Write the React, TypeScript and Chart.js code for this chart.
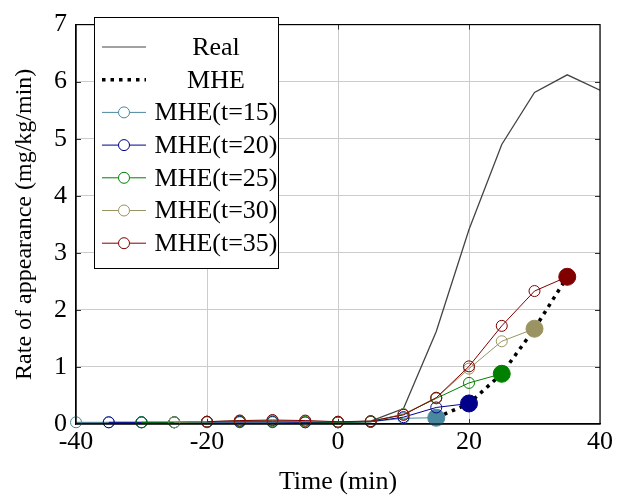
import React, { useEffect, useRef } from "react";
import { Chart, registerables } from "chart.js";

Chart.register(...registerables);

const realTimes = [-40, -35, -30, -25, -20, -15, -10, -5, 0, 5, 10, 15, 20, 25, 30, 35, 40];
const realValues = [0.02, 0.02, 0.02, 0.02, 0.02, 0.02, 0.02, 0.02, 0.03, 0.05, 0.27, 1.62, 3.41, 4.9, 5.81, 6.12, 5.85];

const t15Times = [-40, -35, -30, -25, -20, -15, -10, -5, 0, 5, 10, 15];
const t15Values = [0.03, 0.03, 0.03, 0.03, 0.03, 0.03, 0.03, 0.03, 0.03, 0.04, 0.1, 0.11];
const t20Times = [-35, -30, -25, -20, -15, -10, -5, 0, 5, 10, 15, 20];
const t20Values = [0.03, 0.03, 0.03, 0.04, 0.04, 0.04, 0.03, 0.03, 0.04, 0.12, 0.29, 0.36];
const t25Times = [-30, -25, -20, -15, -10, -5, 0, 5, 10, 15, 20, 25];
const t25Values = [0.03, 0.03, 0.04, 0.05, 0.05, 0.04, 0.03, 0.04, 0.17, 0.45, 0.72, 0.88];
const t30Times = [-25, -20, -15, -10, -5, 0, 5, 10, 15, 20, 25, 30];
const t30Values = [0.03, 0.04, 0.06, 0.06, 0.05, 0.04, 0.05, 0.17, 0.46, 0.97, 1.45, 1.67];
const t35Times = [-20, -15, -10, -5, 0, 5, 10, 15, 20, 25, 30, 35];
const t35Values = [0.04, 0.06, 0.07, 0.06, 0.04, 0.05, 0.16, 0.46, 1.01, 1.72, 2.33, 2.58];

const mheTimes = [15, 20, 25, 30, 35];
const mheValues = [0.11, 0.36, 0.88, 1.67, 2.58];

const legendLabels = ["Real", "MHE", "MHE(t=15)", "MHE(t=20)", "MHE(t=25)", "MHE(t=30)", "MHE(t=35)"];

const FONT = "'Liberation Serif', 'DejaVu Serif', serif";
const FS = 26;

const colors = {
  real: "#444444",
  mhe: "#000000",
  t15: "#4a889f",
  t20: "#00008b",
  t25: "#008000",
  t30: "#9b9361",
  t35: "#800000",
};

function pts(xs: number[], ys: number[]) {
  return xs.map((x, i) => ({ x, y: ys[i] }));
}

function seriesDs(label: string, xs: number[], ys: number[], color: string, order: number) {
  const n = xs.length;
  return {
    label,
    data: pts(xs, ys),
    borderColor: color,
    borderWidth: 1,
    pointRadius: xs.map((_, i) => (i === n - 1 ? 8.5 : 5.5)),
    pointBorderWidth: 1,
    pointBorderColor: color,
    pointBackgroundColor: xs.map((_, i) => (i === n - 1 ? color : "rgba(0,0,0,0)")),
    pointStyle: "circle",
    order,
    clip: false as any,
  };
}

const frame = {
  id: "frame",
  beforeDatasetsDraw(chart: any) {
    const { ctx, chartArea: a, scales } = chart;
    ctx.save();
    ctx.strokeStyle = "#333";
    ctx.lineWidth = 1;
    const tl = 5;
    for (const v of [-20, 0, 20]) {
      const x = Math.round(scales.x.getPixelForValue(v)) + 0.5;
      ctx.beginPath();
      ctx.moveTo(x, a.bottom);
      ctx.lineTo(x, a.bottom - tl);
      ctx.moveTo(x, a.top);
      ctx.lineTo(x, a.top + tl);
      ctx.stroke();
    }
    for (let v = 1; v <= 6; v++) {
      const y = Math.round(scales.y.getPixelForValue(v)) + 0.5;
      ctx.beginPath();
      ctx.moveTo(a.left, y);
      ctx.lineTo(a.left + tl, y);
      ctx.moveTo(a.right, y);
      ctx.lineTo(a.right - tl, y);
      ctx.stroke();
    }
    ctx.restore();
  },
  afterDraw(chart: any) {
    const { ctx, chartArea: a } = chart;
    ctx.save();
    ctx.strokeStyle = "#000";
    ctx.lineWidth = 1.2;
    ctx.strokeRect(a.left, a.top, a.right - a.left, a.bottom - a.top);

    // legend
    const lx = 94, ly = 17, lw = 184, lh = 251;
    ctx.fillStyle = "#fff";
    ctx.fillRect(lx, ly, lw, lh);
    ctx.strokeStyle = "#000";
    ctx.lineWidth = 1;
    ctx.strokeRect(lx + 0.5, ly + 0.5, lw, lh);
    const rowColors = [colors.real, colors.mhe, colors.t15, colors.t20, colors.t25, colors.t30, colors.t35];
    ctx.font = `${FS}px ${FONT}`;
    ctx.textBaseline = "middle";
    ctx.textAlign = "center";
    legendLabels.forEach((lab, i) => {
      const cy = 47 + i * 32.7;
      const x0 = 102, x1 = 146;
      ctx.save();
      ctx.strokeStyle = rowColors[i];
      if (i === 1) {
        ctx.lineWidth = 3.5;
        ctx.setLineDash([3.5, 5]);
      } else {
        ctx.lineWidth = 1;
      }
      ctx.beginPath();
      ctx.moveTo(x0, cy);
      ctx.lineTo(x1, cy);
      ctx.stroke();
      ctx.setLineDash([]);
      if (i >= 2) {
        ctx.fillStyle = "#fff";
        ctx.beginPath();
        ctx.arc(124, cy, 5.5, 0, Math.PI * 2);
        ctx.fill();
        ctx.stroke();
      }
      ctx.restore();
      ctx.fillStyle = "#000";
      ctx.fillText(lab, 216, cy + 1);
    });
    ctx.restore();
  },
};

export default function App() {
  const ref = useRef<HTMLCanvasElement | null>(null);
  useEffect(() => {
    document.body.style.margin = "0";
    const canvas = ref.current!;
    const chart = new Chart(canvas, {
      type: "line",
      data: {
        datasets: [
          {
            label: "Real",
            data: pts(realTimes, realValues),
            borderColor: colors.real,
            borderWidth: 1.3,
            pointRadius: 0,
            order: 20,
          } as any,
          {
            label: "MHE",
            data: pts(mheTimes, mheValues),
            borderColor: colors.mhe,
            borderWidth: 3.5,
            borderDash: [3.5, 5],
            pointRadius: 0,
            order: 10,
          } as any,
          seriesDs("MHE(t=15)", t15Times, t15Values, colors.t15, 5),
          seriesDs("MHE(t=20)", t20Times, t20Values, colors.t20, 4),
          seriesDs("MHE(t=25)", t25Times, t25Values, colors.t25, 3),
          seriesDs("MHE(t=30)", t30Times, t30Values, colors.t30, 2),
          seriesDs("MHE(t=35)", t35Times, t35Values, colors.t35, 1),
        ],
      },
      options: {
        animation: false,
        responsive: false,
        maintainAspectRatio: false,
        layout: { padding: { left: 0, right: 29, top: 16, bottom: 0 } },
        plugins: { legend: { display: false }, tooltip: { enabled: false } },
        scales: {
          x: {
            type: "linear",
            min: -40,
            max: 40,
            ticks: {
              stepSize: 20,
              color: "#000",
              font: { family: FONT, size: FS },
              padding: 3,
              maxRotation: 0,
            },
            grid: { color: "#cccccc", lineWidth: 1, drawTicks: false },
            border: { color: "#000", width: 1.2 },
            title: {
              display: true,
              text: "Time (min)",
              color: "#000",
              font: { family: FONT, size: FS },
              padding: { top: 4, bottom: 0 },
            },
            afterFit(scale: any) {
              scale.height = 74;
            },
          },
          y: {
            type: "linear",
            min: 0,
            max: 7,
            ticks: {
              stepSize: 1,
              color: "#000",
              font: { family: FONT, size: FS },
              padding: 9,
            },
            grid: { color: "#cccccc", lineWidth: 1, drawTicks: false },
            border: { color: "#000", width: 1.2 },
            title: {
              display: true,
              text: "Rate of appearance (mg/kg/min)",
              color: "#000",
              font: { family: FONT, size: 24 },
              padding: { top: 10, bottom: 0 },
            },
            afterFit(scale: any) {
              scale.width = 76;
            },
          },
        },
      },
      plugins: [frame],
    } as any);
    return () => chart.destroy();
  }, []);
  return <canvas ref={ref} width={629} height={498} style={{ display: "block" }} />;
}
